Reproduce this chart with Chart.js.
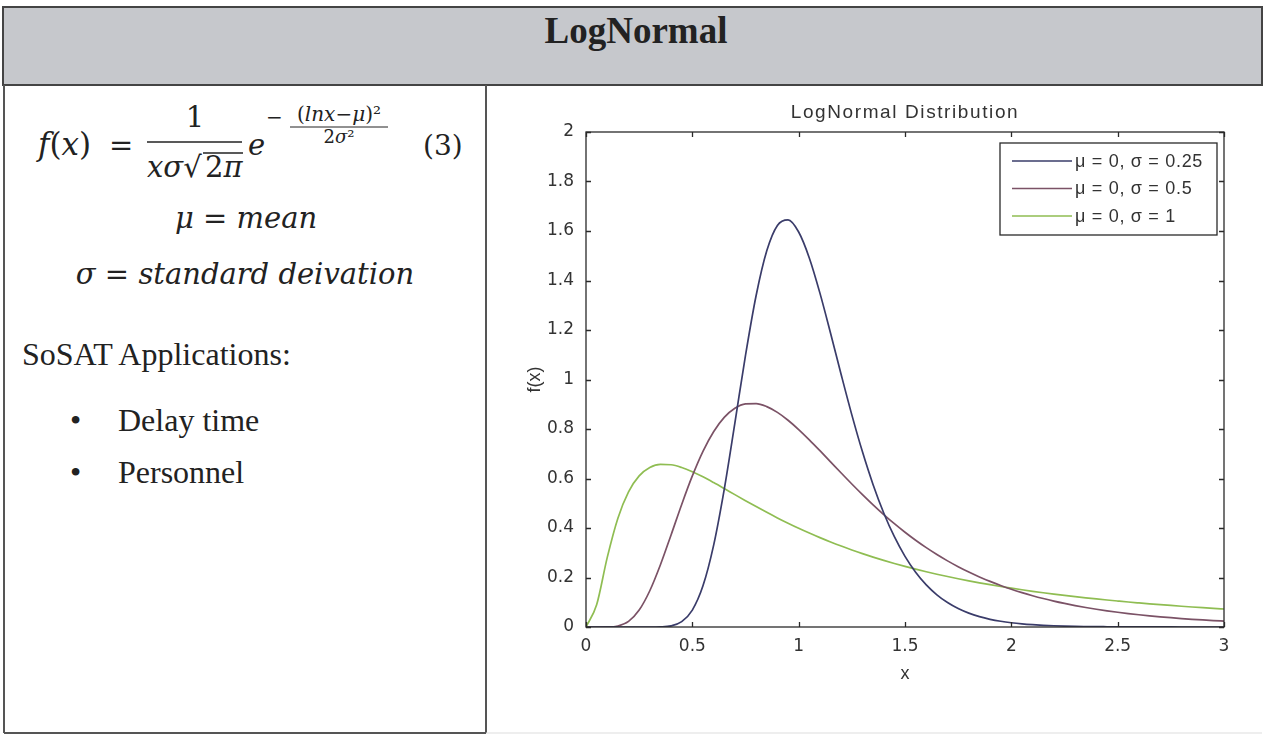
<!DOCTYPE html>
<html>
<head>
<meta charset="utf-8">
<title>LogNormal</title>
<script src="https://cdn.jsdelivr.net/npm/chart.js@4.4.1/dist/chart.umd.min.js"></script>
<style>
  html, body {
    margin: 0;
    padding: 0;
    background: #ffffff;
    width: 1265px;
    height: 737px;
    overflow: hidden;
  }
  #sheet {
    position: absolute;
    left: 0;
    top: 0;
  }
  #plotBox {
    position: absolute;
    left: 490px;
    top: 88px;
    width: 770px;
    height: 640px;
  }
  .math { font-family: "DejaVu Serif", serif; fill: #222; }
  .it { font-style: italic; }
  .body { font-family: "Liberation Serif", "Times New Roman", serif; fill: #222; }
</style>
</head>
<body>
<svg id="sheet" width="1265" height="737" xmlns="http://www.w3.org/2000/svg">
  <rect x="3" y="7" width="1259" height="78" fill="#c6c8cc" stroke="#444" stroke-width="2"/>
  <text x="636" y="43" text-anchor="middle" class="body" font-weight="bold" font-size="37">LogNormal</text>

  <line x1="4" y1="85" x2="4" y2="733" stroke="#555" stroke-width="2"/>
  <line x1="486" y1="85" x2="486" y2="733" stroke="#555" stroke-width="2"/>
  <line x1="4" y1="733" x2="486" y2="733" stroke="#555" stroke-width="2"/>
  <line x1="486" y1="733" x2="1262" y2="733" stroke="#ddd" stroke-width="1"/>

  <!-- formula -->
  <text x="38" y="155" class="math" font-size="31"><tspan class="it">f</tspan>(<tspan class="it">x</tspan>)</text>
  <text x="109" y="155" class="math" font-size="29">=</text>
  <text x="195" y="127" text-anchor="middle" class="math" font-size="29">1</text>
  <line x1="147" y1="142" x2="242" y2="142" stroke="#222" stroke-width="1.5"/>
  <text x="147" y="177" class="math" font-size="29"><tspan class="it">xσ</tspan>√</text>
  <line x1="203" y1="153" x2="243" y2="153" stroke="#222" stroke-width="1.3"/>
  <text x="205" y="177" class="math" font-size="29">2<tspan class="it">π</tspan></text>
  <text x="248" y="155" class="math it" font-size="29">e</text>
  <text x="266" y="124" class="math" font-size="20">−</text>
  <text x="339" y="121" text-anchor="middle" class="math" font-size="20">(<tspan class="it">lnx</tspan>−<tspan class="it">μ</tspan>)²</text>
  <line x1="290" y1="127" x2="388" y2="127" stroke="#222" stroke-width="1"/>
  <text x="339" y="143" text-anchor="middle" class="math" font-size="18">2<tspan class="it">σ</tspan>²</text>
  <text x="423" y="155" class="math" font-size="28">(3)</text>

  <text x="246" y="228" text-anchor="middle" class="math" font-size="29"><tspan class="it">μ</tspan> = <tspan class="it">mean</tspan></text>
  <text x="245" y="284" text-anchor="middle" class="math" font-size="29"><tspan class="it">σ</tspan> = <tspan class="it">standard deivation</tspan></text>

  <text x="22" y="365" class="body" font-size="32">SoSAT Applications:</text>
  <text x="70" y="431" class="body" font-size="32">•</text>
  <text x="118" y="431" class="body" font-size="32">Delay time</text>
  <text x="70" y="483" class="body" font-size="32">•</text>
  <text x="118" y="483" class="body" font-size="32">Personnel</text>
</svg>

<div id="plotBox"><canvas id="lognormal"></canvas></div>

<script>
const xValues = [
  0, 0.05, 0.1, 0.15, 0.2, 0.25, 0.3, 0.35, 0.4, 0.45,
  0.5, 0.55, 0.6, 0.65, 0.7, 0.75, 0.8, 0.85, 0.9, 0.95,
  1, 1.05, 1.1, 1.15, 1.2, 1.25, 1.3, 1.35, 1.4, 1.45,
  1.5, 1.55, 1.6, 1.65, 1.7, 1.75, 1.8, 1.85, 1.9, 1.95,
  2, 2.05, 2.1, 2.15, 2.2, 2.25, 2.3, 2.35, 2.4, 2.45,
  2.5, 2.55, 2.6, 2.65, 2.7, 2.75, 2.8, 2.85, 2.9, 2.95, 3,
];

// mu = 0, sigma = 0.25
const sigma025 = [
  0, 0, 0, 0, 0, 0, 0, 0.0007, 0.0048, 0.0216,
  0.0684, 0.1663, 0.3298, 0.5563, 0.8239, 1.0974, 1.3393, 1.5198, 1.6224, 1.6448,
  1.5958, 1.4911, 1.349, 1.1869, 1.0193, 0.8571, 0.7077, 0.5751, 0.4608, 0.3647,
  0.2856, 0.2215, 0.1703, 0.1301, 0.0987, 0.0744, 0.0559, 0.0418, 0.0311, 0.0231,
  0.0171, 0.0126, 0.0093, 0.0068, 0.005, 0.0037, 0.0027, 0.002, 0.0014, 0.0011,
  0.0008, 0.0006, 0.0004, 0.0003, 0.0002, 0.0002, 0.0001, 0.0001, 0.0001, 0, 0,
];

// mu = 0, sigma = 0.5
const sigma05 = [
  0, 0, 0.0002, 0.004, 0.0225, 0.0684, 0.1465, 0.2515, 0.372, 0.4953,
  0.6104, 0.7098, 0.7891, 0.8469, 0.8838, 0.9016, 0.9028, 0.8904, 0.8671, 0.8355,
  0.7979, 0.7563, 0.7123, 0.6672, 0.6221, 0.5778, 0.5348, 0.4936, 0.4544, 0.4175,
  0.3829, 0.3506, 0.3206, 0.2928, 0.2672, 0.2437, 0.2221, 0.2023, 0.1842, 0.1677,
  0.1526, 0.1389, 0.1264, 0.115, 0.1046, 0.0952, 0.0866, 0.0788, 0.0718, 0.0654,
  0.0595, 0.0542, 0.0494, 0.0451, 0.0411, 0.0375, 0.0342, 0.0312, 0.0285, 0.026, 0.0238,
];

// mu = 0, sigma = 1
const sigma1 = [
  0, 0.0898, 0.2815, 0.4398, 0.5462, 0.6104, 0.6442, 0.657, 0.6555, 0.6445,
  0.6275, 0.6067, 0.5836, 0.5594, 0.5348, 0.5104, 0.4864, 0.4632, 0.4408, 0.4194,
  0.3989, 0.3795, 0.361, 0.3435, 0.327, 0.3113, 0.2965, 0.2825, 0.2693, 0.2568,
  0.245, 0.2338, 0.2233, 0.2133, 0.2039, 0.1949, 0.1865, 0.1785, 0.1709, 0.1637,
  0.1569, 0.1504, 0.1443, 0.1384, 0.1329, 0.1276, 0.1226, 0.1178, 0.1133, 0.109,
  0.1049, 0.1009, 0.0972, 0.0936, 0.0902, 0.087, 0.0839, 0.0809, 0.078, 0.0753, 0.0727,
];

const seriesLabels = ["μ = 0, σ = 0.25", "μ = 0, σ = 0.5", "μ = 0, σ = 1"];
const chartTitle = "LogNormal Distribution";
const xAxisLabel = "x";
const yAxisLabel = "f(x)";

const TICK_LEN = 5;
const INK = "#2a2a2a";

const toPoints = (ys) => xValues.map((x, i) => ({ x, y: ys[i] }));

const spacedText = (ctx, text, x, y, spacing) => {
  ctx.letterSpacing = `${spacing}px`;
  ctx.fillText(text, x, y);
  ctx.letterSpacing = "0px";
};

// matlab-ish frame: box, inward ticks on all sides, title, axis labels, legend
const matlabFramePlugin = {
  id: "matlabFrame",
  afterDraw(chart) {
    const { ctx, chartArea } = chart;
    const xScale = chart.scales.x;
    const yScale = chart.scales.y;
    const { left, right, top, bottom } = chartArea;

    ctx.save();
    ctx.strokeStyle = INK;
    ctx.lineWidth = 1.3;
    ctx.strokeRect(left, top, right - left, bottom - top);

    ctx.beginPath();
    xScale.ticks.forEach((tick) => {
      const x = Math.round(xScale.getPixelForValue(tick.value)) + 0.5;
      ctx.moveTo(x, bottom);
      ctx.lineTo(x, bottom - TICK_LEN);
      ctx.moveTo(x, top);
      ctx.lineTo(x, top + TICK_LEN);
    });
    yScale.ticks.forEach((tick) => {
      const y = Math.round(yScale.getPixelForValue(tick.value)) + 0.5;
      ctx.moveTo(left, y);
      ctx.lineTo(left + TICK_LEN, y);
      ctx.moveTo(right, y);
      ctx.lineTo(right - TICK_LEN, y);
    });
    ctx.stroke();

    ctx.fillStyle = "#333";
    ctx.textAlign = "center";
    ctx.textBaseline = "middle";
    ctx.font = "19px 'Liberation Sans', Arial, sans-serif";
    spacedText(ctx, chartTitle, (left + right) / 2, top - 19, 1.6);

    ctx.font = "18px 'Liberation Sans', Arial, sans-serif";
    ctx.fillText(xAxisLabel, (left + right) / 2, bottom + 47);

    ctx.save();
    ctx.translate(left - 51, (top + bottom) / 2);
    ctx.rotate(-Math.PI / 2);
    ctx.fillText(yAxisLabel, 0, 0);
    ctx.restore();

    // legend
    const boxRight = right - 7;
    const boxLeft = boxRight - 217;
    const boxTop = top + 11;
    const boxHeight = 92;
    ctx.fillStyle = "#ffffff";
    ctx.fillRect(boxLeft, boxTop, boxRight - boxLeft, boxHeight);
    ctx.strokeStyle = INK;
    ctx.lineWidth = 1.3;
    ctx.strokeRect(boxLeft, boxTop, boxRight - boxLeft, boxHeight);

    ctx.textAlign = "left";
    ctx.font = "18px 'Liberation Sans', Arial, sans-serif";
    chart.data.datasets.forEach((ds, i) => {
      const rowY = boxTop + 18 + i * 27.5;
      ctx.strokeStyle = ds.borderColor;
      ctx.lineWidth = 1.7;
      ctx.beginPath();
      ctx.moveTo(boxLeft + 12, rowY);
      ctx.lineTo(boxLeft + 72, rowY);
      ctx.stroke();
      ctx.fillStyle = "#333";
      spacedText(ctx, ds.label, boxLeft + 75, rowY + 1, 0.7);
    });

    ctx.restore();
  },
};

const lineStyle = {
  pointRadius: 0,
  borderWidth: 1.7,
  fill: false,
  cubicInterpolationMode: "monotone",
};

const tickFont = { family: "'DejaVu Sans', Arial, sans-serif", size: 17 };

const ctx = document.getElementById("lognormal").getContext("2d");

new Chart(ctx, {
  type: "line",
  plugins: [matlabFramePlugin],
  data: {
    datasets: [
      {
        label: seriesLabels[0],
        data: toPoints(sigma025),
        borderColor: "#3a3c6a",
        ...lineStyle,
      },
      {
        label: seriesLabels[1],
        data: toPoints(sigma05),
        borderColor: "#7b5266",
        ...lineStyle,
      },
      {
        label: seriesLabels[2],
        data: toPoints(sigma1),
        borderColor: "#8fbd52",
        ...lineStyle,
      },
    ],
  },
  options: {
    responsive: true,
    maintainAspectRatio: false,
    animation: false,
    layout: {
      padding: { top: 44, right: 36, bottom: 0, left: 0 },
    },
    plugins: {
      legend: { display: false },
      title: { display: false },
      tooltip: { enabled: false },
    },
    scales: {
      x: {
        type: "linear",
        min: 0,
        max: 3,
        grid: { display: false, drawTicks: false },
        border: { display: false },
        ticks: {
          stepSize: 0.5,
          padding: 9,
          color: "#333",
          maxRotation: 0,
          font: tickFont,
          callback: (value) => String(Math.round(value * 10) / 10),
        },
        afterFit(scale) {
          scale.height = 101;
        },
      },
      y: {
        min: 0,
        max: 2,
        grid: { display: false, drawTicks: false },
        border: { display: false },
        ticks: {
          stepSize: 0.2,
          padding: 12,
          color: "#333",
          font: tickFont,
          callback: (value) => String(Math.round(value * 10) / 10),
        },
        afterFit(scale) {
          scale.width = 96;
        },
      },
    },
  },
});
</script>
</body>
</html>
